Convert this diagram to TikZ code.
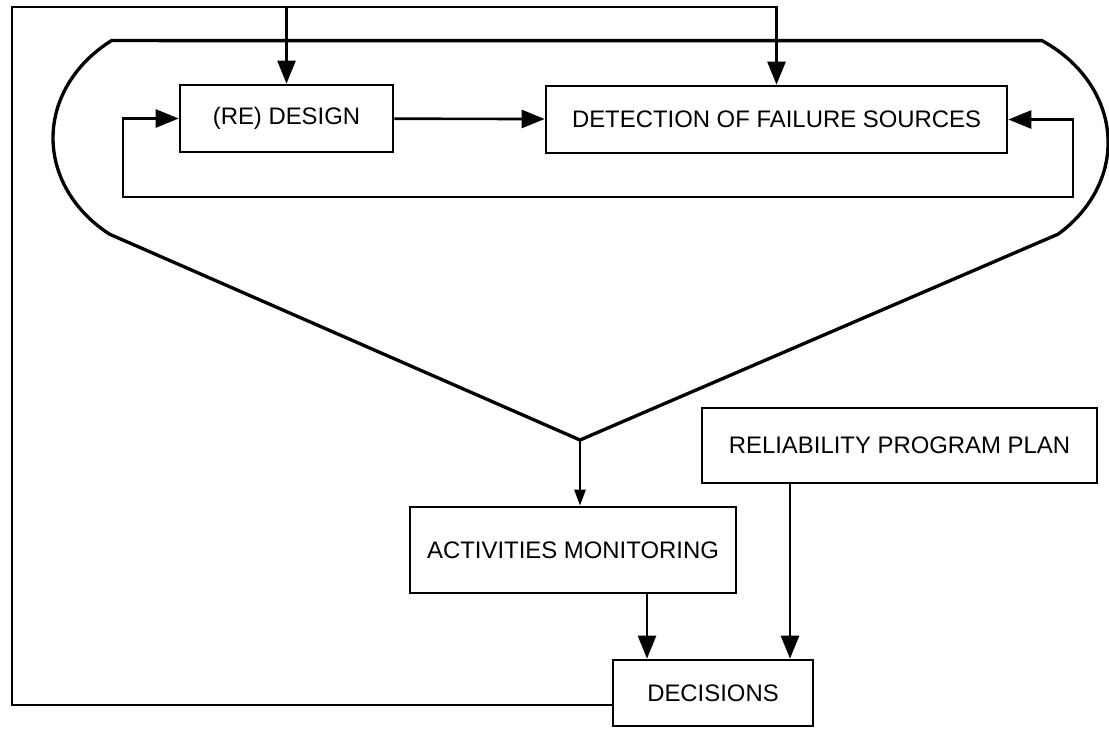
\documentclass[tikz,border=0pt]{standalone}
\usepackage{fontspec}
\setmainfont{Liberation Sans}
\usepackage{tikz}
\usetikzlibrary{calc,arrows.meta}

\begin{document}
\begin{tikzpicture}[box/.style={draw,line width=1.5pt,inner sep=0pt,font=\fontsize{13.6pt}{16pt}\selectfont},
                    arr/.style={line width=1.5pt,-{Triangle[length=0.46cm,width=0.36cm]}}]%,cap=round]

                                \useasboundingbox (0,0) rectangle (22.18,-14.58);

                                \node [box,minimum width=4.26cm,minimum height=1.34cm] (design) at (5.73cm,-2.37cm) {(RE) DESIGN};
                                \node [box,minimum width=9.22cm,minimum height=1.34cm] (detect) at (15.53cm,-2.39cm) {DETECTION OF FAILURE SOURCES};
                                \node [box,minimum width=6.52cm,minimum height=1.72cm] (monitor) at (11.46cm,-11.0cm) {ACTIVITIES MONITORING};
                                \node [box,minimum width=7.9cm,minimum height=1.5cm] (plan) at (17.99cm,-8.91cm) {RELIABILITY PROGRAM PLAN};
                                \node [box,minimum width=4.0cm,minimum height=1.32cm,text depth=-0.24cm] (decide) at (14.26cm,-13.86cm) {DECISIONS};

                                \coordinate (tl) at (0.24cm,-0.14cm);
                                \coordinate (fbl) at (2.46cm,-3.94cm);
                                \coordinate (fbr) at (21.46cm,-3.94cm);
                                \coordinate (apex) at (11.6cm,-8.8cm);

                                % funnel
                                \draw [line width=1.9pt] (2.19cm,-4.683cm) arc[start angle=232,end angle=127,x radius=2.94cm,y radius=2.44cm]
                                    -- (20.84cm,-0.813cm) arc[start angle=56.6,end angle=-48.7,x radius=2.94cm,y radius=2.44cm]
                                    -- (apex) -- cycle;

                                \draw [arr] (design) -- (detect);
                                \draw [line width=1.5pt,{Triangle[length=0.46cm,width=0.36cm]}-{Triangle[length=0.46cm,width=0.36cm]}] (design.west) -| (fbl) -- (fbr) |- (detect.east);

                                \draw [arr] ([yshift=-0.24cm]decide.west) -| (tl) -| (detect.north);
                                \draw [arr] (tl) -| (design.north);

                                \draw [line width=1.5pt,-{Triangle[length=0.32cm,width=0.22cm]}] (apex) -- (apex |- monitor.north);
                                \draw [arr] ([xshift=-1.32cm]decide.north |- monitor.south) -- ([xshift=-1.32cm]decide.north);
                                \draw [arr] ([xshift=1.54cm]decide.north |- plan.south) -- ([xshift=1.54cm]decide.north);
                            \end{tikzpicture}
\end{document}
